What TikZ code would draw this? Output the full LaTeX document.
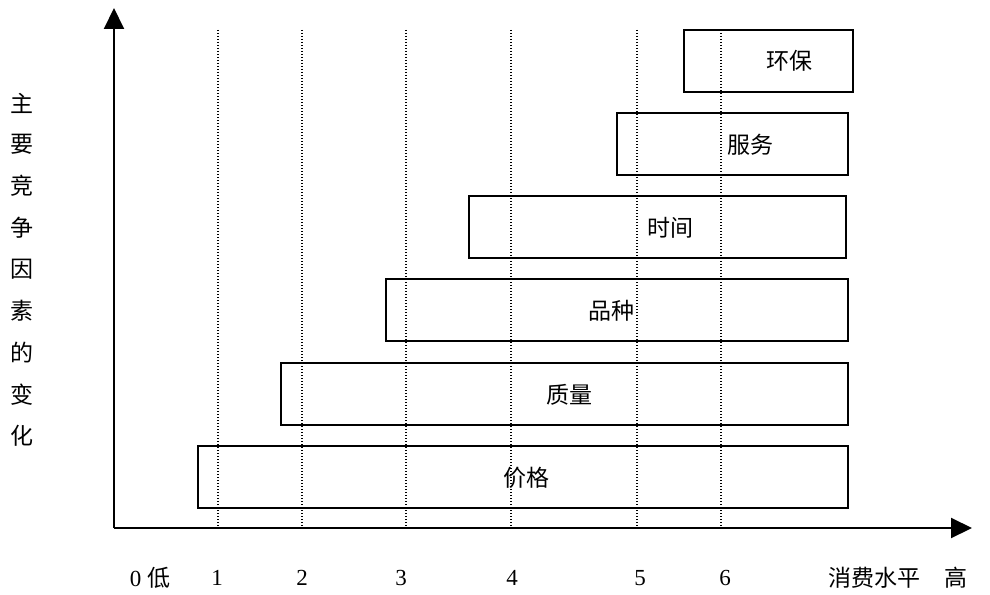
\documentclass[tikz,border=0pt]{standalone}
\usepackage{fontspec}
\setmainfont{Liberation Serif}
\newfontfamily\cjk{Noto Sans CJK SC}
\usetikzlibrary{arrows.meta}
\begin{document}
\begin{tikzpicture}[x=1pt,y=-1pt,
  axisline/.style={line width=2pt,-{Triangle[length=21pt,width=20pt]}},
  guide/.style={line width=1.2pt,dash pattern=on 1.2pt off 1.8pt},
  barbox/.style={draw,line width=2pt,anchor=north west,inner sep=0pt,minimum height=62pt},
  barlabel/.style={font=\cjk\fontsize{23}{23}\selectfont,inner sep=0pt},
  ticklabel/.style={font=\fontsize{23}{23}\selectfont,inner sep=0pt},
  cjklabel/.style={font=\cjk\fontsize{23}{23}\selectfont,inner sep=0pt}]
\useasboundingbox (0,0) rectangle (990,594);
% guide lines
\foreach \gx/\gn in {218/g1,302/g2,406/g3,511/g4,637/g5,721/g6}{
  \coordinate (\gn t) at (\gx,30);
  \coordinate (\gn b) at (\gx,528);
  \draw[guide] (\gn t) -- (\gn b);
}
% bars
\node[barbox,minimum width=169pt] (hb) at (683,29) {};
\node[barbox,minimum width=231pt] (fw) at (616,112) {};
\node[barbox,minimum width=377pt] (sj) at (468,195) {};
\node[barbox,minimum width=462pt] (pz) at (385,278) {};
\node[barbox,minimum width=567pt] (zl) at (280,362) {};
\node[barbox,minimum width=650pt] (jg) at (197,445) {};
\node[barlabel] (hbl) at (789,61) {环保};
\node[barlabel] (fwl) at (750,145) {服务};
\node[barlabel] (sjl) at (670,228) {时间};
\node[barlabel] (pzl) at (611,311) {品种};
\node[barlabel] (zll) at (569,395) {质量};
\node[barlabel] (jgl) at (526,478) {价格};
% axes
\coordinate (O) at (114,528);
\coordinate (ytop) at (114,8);
\coordinate (xend) at (972,528);
\draw[axisline] (O) -- (ytop);
\draw[axisline] (O) -- (xend);
% x labels
\node[ticklabel] (t0) at (150,578) {0 {\cjk 低}};
\node[ticklabel] (t1) at (217,578) {1};
\node[ticklabel] (t2) at (302,578) {2};
\node[ticklabel] (t3) at (401,578) {3};
\node[ticklabel] (t4) at (512,578) {4};
\node[ticklabel] (t5) at (640,578) {5};
\node[ticklabel] (t6) at (725,578) {6};
\node[cjklabel] (xl) at (874,578) {消费水平};
\node[cjklabel] (hi) at (956,578) {高};
% y label
\foreach \ch [count=\i] in {主,要,竞,争,因,素,的,变,化}{
  \node[cjklabel] (yl\i) at (22,{103+41.6*(\i-1)}) {\ch};
}
\end{tikzpicture}
\end{document}
